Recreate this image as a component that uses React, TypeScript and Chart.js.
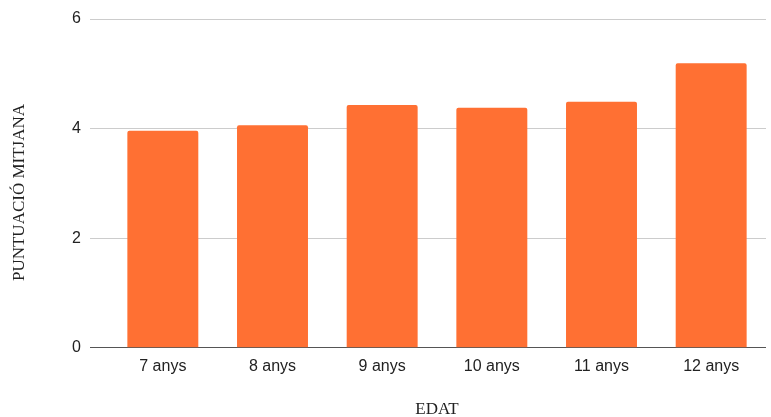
import React, { useEffect, useRef } from "react";
import { Chart, registerables } from "chart.js";

Chart.register(...registerables);

const categories = ["7 anys", "8 anys", "9 anys", "10 anys", "11 anys", "12 anys"];
const values = [3.96, 4.06, 4.43, 4.38, 4.49, 5.19];
const yTicks = [0, 2, 4, 6];
const xTitle = "EDAT";
const yTitle = "PUNTUACIÓ MITJANA";

const yTitlePlugin = {
  id: "yTitlePlugin",
  afterDraw(chart: any) {
    const ctx = chart.ctx;
    ctx.save();
    ctx.translate(20, 192.5);
    ctx.rotate(-Math.PI / 2);
    ctx.font = "17px 'Liberation Serif', 'Times New Roman', serif";
    ctx.fillStyle = "#222222";
    ctx.textAlign = "center";
    ctx.textBaseline = "middle";
    ctx.fillText(yTitle, 0, 0);
    ctx.restore();
  },
};

export default function App() {
  const ref = useRef<HTMLCanvasElement | null>(null);
  useEffect(() => {
    if (!ref.current) return;
    const chart = new Chart(ref.current, {
      type: "bar",
      data: {
        labels: categories,
        datasets: [
          {
            data: values,
            backgroundColor: "#ff7033",
            borderRadius: { topLeft: 2, topRight: 2, bottomLeft: 0, bottomRight: 0 },
            borderSkipped: "bottom",
            barPercentage: 0.647,
            categoryPercentage: 1,
          },
        ],
      },
      options: {
        animation: false,
        responsive: true,
        maintainAspectRatio: false,
        layout: { padding: { top: 19, right: 5, bottom: 0, left: 0 } },
        plugins: { legend: { display: false }, tooltip: { enabled: false } },
        scales: {
          x: {
            grid: { display: false, drawTicks: false },
            border: { display: false },
            ticks: {
              padding: 9.5,
              color: "#222222",
              font: { family: "'Liberation Sans', Arial, sans-serif", size: 16 },
            },
            title: {
              display: true,
              text: xTitle,
              color: "#222222",
              font: { family: "'Liberation Serif', 'Times New Roman', serif", size: 17, lineHeight: 1 },
              padding: { top: 0, bottom: -1 },
            },
            afterFit: (s: any) => {
              s.height = 69.3;
            },
          },
          y: {
            min: 0,
            max: 6,
            afterBuildTicks: (s: any) => {
              s.ticks = yTicks.map((v) => ({ value: v }));
            },
            grid: {
              drawTicks: true,
              tickLength: 18,
              color: (c: any) => (c.tick && c.tick.value === 0 ? "#555555" : "#cccccc"),
              tickColor: (c: any) => (c.tick && c.tick.value === 0 ? "#555555" : "#cccccc"),
              lineWidth: 1,
            },
            border: { display: false },
            ticks: {
              padding: 9,
              color: "#222222",
              font: { family: "'Liberation Sans', Arial, sans-serif", size: 16 },
            },
            title: { display: false },
            afterFit: (s: any) => {
              s.width = 108;
            },
          },
        },
      },
      plugins: [yTitlePlugin],
    });
    return () => chart.destroy();
  }, []);
  return (
    <div style={{ position: "absolute", left: 0, top: 0, width: 771, height: 417, background: "#fff" }}>
      <canvas ref={ref} />
    </div>
  );
}
